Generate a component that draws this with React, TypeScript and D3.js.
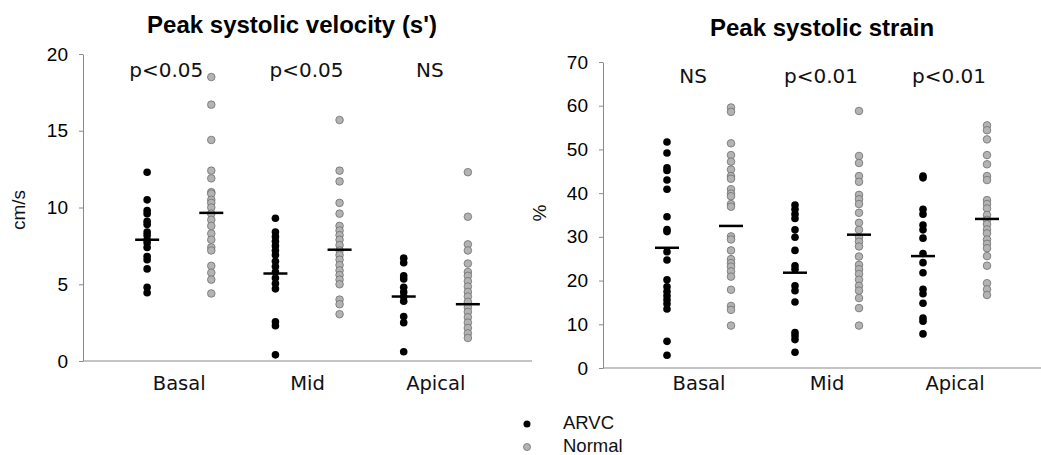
import React, { useEffect, useRef } from 'react'
import * as d3 from 'd3'

const categories = ['Basal', 'Mid', 'Apical']
const groups = ['ARVC', 'Normal']

// peak systolic velocity s' (cm/s)
const velArvcBasal = [12.3, 10.5, 9.8, 9.6, 9.1, 8.9, 8.4, 8.2, 7.9, 7.7, 7.4, 6.8, 6.6, 6.0, 4.8, 4.45]
const velNormalBasal = [18.5, 16.7, 14.4, 12.4, 11.9, 11.0, 10.9, 10.5, 10.3, 10.0, 9.6, 9.2, 8.8, 8.3, 7.9, 7.4, 7.2, 6.2, 5.75, 5.3, 4.4]
const velArvcMid = [9.3, 8.4, 8.1, 7.8, 7.5, 7.2, 6.9, 6.5, 6.15, 5.8, 5.4, 5.05, 4.7, 2.55, 2.3, 0.4]
const velNormalMid = [15.7, 12.4, 11.7, 10.3, 9.6, 8.8, 8.5, 8.2, 7.9, 7.55, 7.2, 6.9, 6.6, 6.25, 5.9, 5.6, 5.3, 5.0, 4.0, 3.7, 3.05]
const velArvcApical = [6.7, 6.4, 5.55, 5.35, 4.8, 4.5, 4.2, 3.9, 2.9, 2.5, 0.6]
const velNormalApical = [12.3, 9.4, 7.6, 7.2, 6.35, 5.8, 5.55, 5.2, 4.85, 4.5, 4.2, 3.85, 3.5, 3.2, 2.85, 2.5, 2.15, 1.8, 1.5]
const velMeans = [7.9, 9.65, 5.7, 7.25, 4.2, 3.7]

// peak systolic strain (%)
const strArvcBasal = [51.7, 49.2, 45.8, 45.2, 43.0, 40.9, 34.6, 31.7, 31.2, 26.6, 24.7, 20.2, 18.6, 17.5, 16.5, 15.6, 14.7, 13.5, 6.1, 2.9]
const strNormalBasal = [59.6, 58.6, 51.4, 48.7, 47.2, 45.4, 43.9, 43.3, 40.9, 39.9, 39.3, 37.5, 36.9, 30.1, 29.4, 26.9, 24.9, 24.0, 23.2, 22.1, 20.9, 17.9, 14.2, 13.3, 9.7]
const strArvcMid = [37.3, 36.3, 35.2, 34.2, 31.6, 29.9, 26.9, 23.4, 22.6, 18.8, 17.7, 15.1, 8.1, 7.4, 6.5, 3.6]
const strNormalMid = [58.8, 48.5, 46.9, 43.9, 42.6, 39.6, 38.6, 37.5, 35.5, 33.2, 31.6, 29.9, 28.9, 27.8, 25.5, 23.6, 22.6, 21.5, 20.2, 18.8, 17.7, 16.0, 13.7, 9.7]
const strArvcApical = [43.9, 43.5, 36.3, 35.2, 32.7, 31.6, 29.7, 26.2, 24.1, 21.8, 18.0, 17.0, 14.8, 11.4, 10.7, 7.8]
const strNormalApical = [55.5, 54.4, 52.3, 48.7, 46.6, 43.9, 43.0, 38.4, 37.5, 36.5, 35.0, 33.9, 32.9, 31.7, 30.8, 29.4, 28.4, 27.4, 25.6, 23.4, 19.4, 18.0, 16.7]
const strMeans = [27.5, 32.5, 21.8, 30.5, 25.6, 34.1]

const velPLabels = ['p<0.05', 'p<0.05', 'NS']
const strPLabels = ['NS', 'p<0.01', 'p<0.01']
const velTicks = [0, 5, 10, 15, 20]
const strTicks = [0, 10, 20, 30, 40, 50, 60, 70]

const W = 1041
const H = 455
const ARIAL = '"Liberation Sans", Arial, sans-serif'
const VERDANA = '"DejaVu Sans", Verdana, sans-serif'
const AXIS_GREY = '#8a8a8a'

const panels = [
  {
    title: "Peak systolic velocity (s')",
    titleX: 292, titleY: 33,
    yLabel: 'cm/s', yLabelX: 25, yLabelY: 210,
    xRange: [83, 532], yRange: [361, 54], domain: [0, 20], ticks: velTicks,
    series: [velArvcBasal, velNormalBasal, velArvcMid, velNormalMid, velArvcApical, velNormalApical],
    means: velMeans, pLabels: velPLabels, pY: 77, pDx: [-13, -1, -6]
  },
  {
    title: 'Peak systolic strain',
    titleX: 822, titleY: 36,
    yLabel: '%', yLabelX: 546, yLabelY: 213,
    xRange: [603, 1051], yRange: [368, 62], domain: [0, 70], ticks: strTicks,
    series: [strArvcBasal, strNormalBasal, strArvcMid, strNormalMid, strArvcApical, strNormalApical],
    means: strMeans, pLabels: strPLabels, pY: 83, pDx: [-6, -6, -6]
  }
]

const App = () => {
  const svgRef = useRef<SVGSVGElement>(null)

  useEffect(() => {
    const svg = d3.select(svgRef.current)
    svg.selectAll('*').remove()

    panels.forEach(p => {
      const slots = categories.flatMap(c => groups.map(g => `${c}-${g}`))
      const xScale = d3.scalePoint<string>().domain(slots).range(p.xRange as [number, number]).padding(1)
      const yScale = d3.scaleLinear().domain(p.domain).range(p.yRange)
      const g = svg.append('g')

      // y axis
      const yAxis = d3.axisLeft(yScale).tickValues(p.ticks).tickSize(4).tickPadding(11).tickSizeOuter(0)
      const ya = g.append('g').attr('transform', `translate(${p.xRange[0]},0)`).call(yAxis)
      ya.select('.domain').attr('stroke', AXIS_GREY)
      ya.selectAll('.tick line').attr('stroke', AXIS_GREY)
      ya.selectAll('.tick text')
        .attr('font-family', ARIAL).attr('font-size', 19).attr('fill', '#000')

      // x axis line
      g.append('line')
        .attr('x1', p.xRange[0]).attr('x2', p.xRange[1])
        .attr('y1', p.yRange[0]).attr('y2', p.yRange[0])
        .attr('stroke', AXIS_GREY).attr('stroke-width', 1)

      // category labels + p values
      categories.forEach((c, i) => {
        const cx = ((xScale(`${c}-ARVC`) as number) + (xScale(`${c}-Normal`) as number)) / 2
        g.append('text').attr('x', cx).attr('y', 390)
          .attr('text-anchor', 'middle').attr('font-family', VERDANA).attr('font-size', 19.5)
          .attr('fill', '#111').text(c)
        g.append('text').attr('x', cx + p.pDx[i]).attr('y', p.pY)
          .attr('text-anchor', 'middle').attr('font-family', VERDANA).attr('font-size', 20)
          .attr('fill', '#111').text(p.pLabels[i])
      })

      // dots
      slots.forEach((s, i) => {
        const isArvc = s.endsWith('ARVC')
        g.append('g').selectAll('circle')
          .data(p.series[i])
          .join('circle')
          .attr('cx', xScale(s) as number)
          .attr('cy', d => yScale(d))
          .attr('r', 3.8)
          .attr('fill', isArvc ? '#000' : '#b3b3b3')
          .attr('stroke', isArvc ? '#000' : '#6e6e6e')
          .attr('stroke-width', isArvc ? 0 : 0.8)
      })

      // mean bars
      g.append('g').selectAll('line')
        .data(p.means)
        .join('line')
        .attr('x1', (d, i) => (xScale(slots[i]) as number) - 12)
        .attr('x2', (d, i) => (xScale(slots[i]) as number) + 12)
        .attr('y1', d => yScale(d))
        .attr('y2', d => yScale(d))
        .attr('stroke', '#000').attr('stroke-width', 2.5)

      // title
      g.append('text').attr('x', p.titleX).attr('y', p.titleY)
        .attr('text-anchor', 'middle').attr('font-family', ARIAL).attr('font-weight', 'bold')
        .attr('font-size', 24).attr('fill', '#000').text(p.title)

      // y label
      g.append('text')
        .attr('transform', `translate(${p.yLabelX},${p.yLabelY}) rotate(-90)`)
        .attr('text-anchor', 'middle').attr('font-family', ARIAL).attr('font-size', 19)
        .attr('fill', '#111').text(p.yLabel)
    })

    // legend
    const legend = svg.append('g')
    groups.forEach((gr, i) => {
      const y = 424 + i * 23
      legend.append('circle').attr('cx', 527).attr('cy', y).attr('r', 3.5)
        .attr('fill', gr === 'ARVC' ? '#000' : '#b3b3b3')
        .attr('stroke', gr === 'ARVC' ? '#000' : '#6e6e6e').attr('stroke-width', gr === 'ARVC' ? 0 : 0.8)
      legend.append('text').attr('x', 563).attr('y', y + 5)
        .attr('font-family', ARIAL).attr('font-size', 18.5).attr('fill', '#111').text(gr)
    })
  }, [])

  return (
    <svg ref={svgRef} width={W} height={H}
      style={{ position: 'absolute', left: 0, top: 0, background: '#fff' }} />
  )
}

export default App
